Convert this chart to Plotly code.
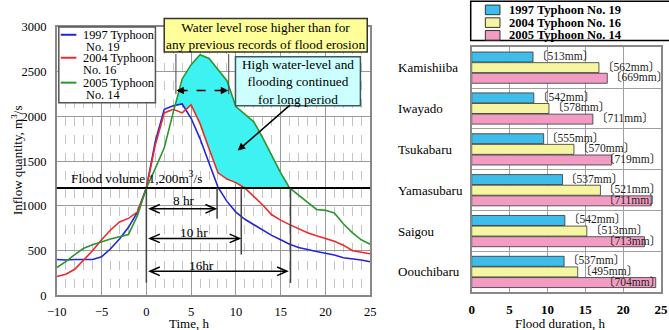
import numpy as np
import plotly.graph_objects as go

W, H = 669, 330
SERIF = "Liberation Serif, Times New Roman, serif"
LABEL_FONT = "Liberation Serif, Noto Sans CJK JP, serif"

# ---------------- data: left chart (inflow hydrographs) ----------------
hours = list(range(-10, 26))
inflow_1997 = [400, 395, 400, 400, 400, 430, 520, 630, 760, 930,
               1200, 1720, 2080, 2120, 2140, 1980, 1750, 1480, 1210, 1050,
               930, 850, 790, 730, 670, 620, 570, 535, 510, 490,
               470, 450, 420, 410, 395, 375]
inflow_2004 = [210, 235, 290, 390, 500, 620, 730, 820, 860, 930,
               1200, 1680, 2040, 2080, 2040, 2130, 1920, 1640, 1370, 1300,
               1260, 1200, 1110, 1010, 900, 840, 790, 745, 700, 665,
               635, 605, 560, 500, 480, 465]
inflow_2005 = [310, 375, 455, 525, 565, 600, 630, 655, 680, 890,
               1200, 1420, 1650, 2046, 2420, 2580, 2690, 2650, 2530, 2400,
               2110, 2030, 1940, 1760, 1560, 1370, 1200, 1120, 1030, 960,
               950, 920, 800, 700, 620, 570]
flood_level = 1200
typhoons = ["1997 Typhoon No. 19", "2004 Typhoon No. 16", "2005 Typhoon No. 14"]
line_colors = ["#2424DC", "#EE2A2A", "#2A962E"]
CYAN = "#3DF2F0"

# ---------------- data: right chart (flood duration) ----------------
dams = ["Kamishiiba", "Iwayado", "Tsukabaru", "Yamasubaru", "Saigou", "Oouchibaru"]
dur_1997 = [8.1, 8.2, 9.5, 12.0, 12.3, 12.2]
dur_2004 = [16.8, 10.2, 13.5, 17.0, 15.2, 14.0]
dur_2005 = [17.9, 16.0, 18.5, 23.7, 22.8, 24.3]
rain_1997 = ["513", "542", "555", "537", "542", "537"]
rain_2004 = ["562", "578", "570", "521", "513", "495"]
rain_2005 = ["669", "711", "719", "711", "713", "704"]
bar_colors = ["#3EBDEB", "#F6F6A2", "#F39CC3"]


def xp(p):
    return p / W


def yp(p):
    return 1 - p / H


fig = go.Figure()

# ---- cyan region: green above max(others, flood level) ----
tt = np.linspace(-10, 25, 3501)
b = np.interp(tt, hours, inflow_1997)
r = np.interp(tt, hours, inflow_2004)
g = np.interp(tt, hours, inflow_2005)
lower = np.maximum(np.maximum(b, r), flood_level)
mask = g > lower
idx = np.where(mask)[0]
if len(idx):
    splits = np.where(np.diff(idx) > 1)[0] + 1
    for seg in np.split(idx, splits):
        xs = np.concatenate([tt[seg], tt[seg][::-1]])
        ys = np.concatenate([g[seg], lower[seg][::-1]])
        fig.add_trace(go.Scatter(x=xs, y=ys, fill="toself", fillcolor=CYAN,
                                 line=dict(width=0), mode="lines", hoverinfo="skip",
                                 showlegend=False, xaxis="x", yaxis="y"))

for name, vals, col in zip(typhoons, [inflow_1997, inflow_2004, inflow_2005], line_colors):
    fig.add_trace(go.Scatter(x=hours, y=vals, mode="lines", name=name,
                             line=dict(color=col, width=1.6), showlegend=False,
                             xaxis="x", yaxis="y"))

# ---- bars ----
for name, vals, col in zip(typhoons, [dur_1997, dur_2004, dur_2005], bar_colors):
    fig.add_trace(go.Bar(x=vals, y=dams, orientation="h", name=name,
                         marker=dict(color=col, line=dict(color="#333333", width=0.8)),
                         showlegend=False, xaxis="x2", yaxis="y2"))

shapes = []
ann = []


def text_ann(x, y, text, xref="paper", yref="paper", xanchor="center", size=13.3, **kw):
    d = dict(x=x, y=y, xref=xref, yref=yref, text=text, showarrow=False,
             xanchor=xanchor, yanchor=kw.pop("yanchor", "middle"),
             font=kw.pop("font", dict(family=SERIF, size=size, color="black")))
    d.update(kw)
    ann.append(d)


# flood level line
shapes.append(dict(type="line", xref="x domain", yref="y", x0=0, x1=1,
                   y0=flood_level, y1=flood_level, line=dict(color="black", width=2)))
# vertical markers
for tv, ylow in [(0, 140), (7.9, 857), (10.6, 457), (16.1, 136)]:
    shapes.append(dict(type="line", xref="x", yref="y", x0=tv, x1=tv, y0=flood_level,
                       y1=ylow, line=dict(color="#444444", width=1.5)))


def chevron(x_tip, y, direction):
    dx, dy = 1.1 * direction, 48
    return f"M {x_tip + dx},{y + dy} L {x_tip},{y} L {x_tip + dx},{y - dy}"


for (x0, x1, yv, label, tx, ty) in [(0.4, 7.7, 967, "8 hr", 4.2, 1060),
                                      (0.4, 10.4, 636, "10 hr", 5.3, 700),
                                      (0.4, 15.7, 268, "16hr", 6.2, 335)]:
    shapes.append(dict(type="line", xref="x", yref="y", x0=x0, x1=x1, y0=yv, y1=yv,
                       line=dict(color="black", width=1.5)))
    shapes.append(dict(type="path", xref="x", yref="y", path=chevron(x0, yv, 1),
                       line=dict(color="black", width=1.5)))
    shapes.append(dict(type="path", xref="x", yref="y", path=chevron(x1, yv, -1),
                       line=dict(color="black", width=1.5)))
    text_ann(tx, ty, label, xref="x", yref="y")

text_ann(xp(60), yp(178), "Flood volume 1,200m<sup>3</sup>/s", xanchor="left")

# top dashed double arrow and its markers
for tv in [3.3, 9.2]:
    shapes.append(dict(type="line", xref="x", yref="y", x0=tv, x1=tv, y0=2700, y1=2250,
                       line=dict(color="#444444", width=1)))
shapes.append(dict(type="line", xref="x", yref="y", x0=3.6, x1=8.9, y0=2290, y1=2290,
                   line=dict(color="black", width=1.5, dash="dash")))
for tip, axp in [(3.35, 10), (9.15, -10)]:
    ann.append(dict(x=tip, y=2290, xref="x", yref="y", text="", showarrow=True,
                    ax=axp, ay=0, arrowhead=2, arrowsize=1, arrowwidth=1.5,
                    arrowcolor="black"))

# callout boxes
shapes.append(dict(type="rect", xref="paper", yref="paper", x0=xp(158), x1=xp(366),
                   y0=yp(12), y1=yp(47), fillcolor="#FFFF99", layer="above", opacity=1,
                   line=dict(color="#333333", width=1.5)))
text_ann(xp(262), yp(30.5),
         "Water level rose higher than for<br>any previous records of flood erosion")
shapes.append(dict(type="rect", xref="paper", yref="paper", x0=xp(231), x1=xp(359),
                   y0=yp(52), y1=yp(103), fillcolor="#CCFFFF", layer="above", opacity=1,
                   line=dict(color="#3A5A5A", width=1.5)))
text_ann(xp(295), yp(78), "High water-level and<br>flooding continued<br>for long period")
ann.append(dict(x=10.2, y=1618, xref="x", yref="y", text="", showarrow=True,
                ax=54, ay=-47, arrowhead=2, arrowsize=1, arrowwidth=1.5, arrowcolor="black"))

# left legend (drawn)
shapes.append(dict(type="rect", xref="paper", yref="paper", x0=xp(50), x1=xp(149),
                   y0=yp(21), y1=yp(100), fillcolor="white", layer="above", opacity=1,
                   line=dict(color="#555555", width=1.5)))
leg_lines = [("1997 Typhoon", "\u00a0No. 19"), ("2004 Typhoon", "No. 16"),
             ("2005 Typhoon", "\u00a0No. 14")]
for k, ((l1, l2), col) in enumerate(zip(leg_lines, line_colors)):
    ytop = [29, 53, 79][k]
    shapes.append(dict(type="line", xref="paper", yref="paper", x0=xp(52), x1=xp(68),
                       y0=yp(ytop), y1=yp(ytop), line=dict(color=col, width=2)))
    text_ann(xp(73), yp(ytop), l1, xanchor="left", size=12.3)
    text_ann(xp(73), yp(ytop + 13), l2, xanchor="left", size=12.3)

# axis titles
text_ann(xp(7), yp(160), "Inflow quantity, m<sup>3</sup>/s", size=13, textangle=-90)
text_ann(xp(183), yp(321), "Time, h", size=13, yanchor="top")
text_ann(xp(563), yp(321), "Flood duration, h", size=13, yanchor="top")

# ---- right chart labels ----
bargap = 0.22
slot = (1 - bargap) / 3
for i, dam in enumerate(dams):
    text_ann(xp(395), i, dam, yref="y2", xanchor="left", size=13)
    for k, (vals, rains) in enumerate(zip([dur_1997, dur_2004, dur_2005],
                                          [rain_1997, rain_2004, rain_2005])):
        v = vals[i]
        txt = "〔" + rains[i] + "mm〕"
        lab_font = dict(family=LABEL_FONT, size=11.5, color="#222222")
        if v + 0.1 + 7.4 <= 25.4:
            text_ann(v + 0.1, i + (k - 1) * slot, txt, xref="x2", yref="y2",
                     xanchor="left", yshift=1, font=lab_font)
        else:
            # too close to the right edge: right-align the label at the figure edge
            text_ann(xp(669), i + (k - 1) * slot, txt, xref="paper", yref="y2",
                     xanchor="right", yshift=1, font=lab_font)

# right legend (drawn)
shapes.append(dict(type="rect", xref="paper", yref="paper", x0=xp(472), x1=xp(690),
                   y0=yp(-6), y1=yp(35), fillcolor="white", layer="above", opacity=1,
                   line=dict(color="black", width=1.5)))
for k, (name, col) in enumerate(zip(typhoons, bar_colors)):
    yc = [3, 16.3, 29.6][k]
    shapes.append(dict(type="rect", xref="paper", yref="paper", x0=xp(487), x1=xp(502),
                       y0=yp(yc - 5), y1=yp(yc + 5), fillcolor=col, layer="above",
                       line=dict(color="#333333", width=1)))
    text_ann(xp(509), yp(yc), name, xanchor="left",
             font=dict(family=SERIF, size=12.5, color="black", weight="bold"))

fig.update_layout(
    width=W, height=H, margin=dict(l=0, r=0, t=0, b=0),
    paper_bgcolor="white", plot_bgcolor="white",
    barmode="group", bargap=bargap, bargroupgap=0.06,
    shapes=shapes, annotations=ann, showlegend=False,
    xaxis=dict(domain=[xp(48), xp(369)], range=[-10, 25], tick0=-10, dtick=5,
               showgrid=True, gridcolor="#9A9A9A", gridwidth=1,
               minor=dict(dtick=1, showgrid=True, gridcolor="#C4C4C4", griddash="dash"),
               showline=True, mirror=True, linecolor="#888888", linewidth=1.5,
               zeroline=False, ticks="", ticklabelstandoff=4,
               tickfont=dict(family=SERIF, size=12.5, color="black"), anchor="y"),
    yaxis=dict(domain=[yp(301), yp(21)], range=[0, 3000], dtick=500,
               showgrid=True, gridcolor="#9A9A9A", gridwidth=1,
               showline=True, mirror=True, linecolor="#888888", linewidth=1.5,
               zeroline=False, ticks="", ticklabelstandoff=6,
               tickfont=dict(family=SERIF, size=12.5, color="black"), anchor="x"),
    xaxis2=dict(domain=[xp(473), xp(667)], range=[0, 25], dtick=5,
                showgrid=True, gridcolor="#A0A0A0", gridwidth=1,
                showline=True, mirror=True, linecolor="#888888", linewidth=1.5,
                zeroline=False, ticks="", ticklabelstandoff=4,
                tickfont=dict(family=SERIF, size=13, color="black", weight="bold"),
                anchor="y2"),
    yaxis2=dict(domain=[yp(298), yp(42)], type="category", autorange="reversed",
                tickson="boundaries", showgrid=True, gridcolor="#A0A0A0", gridwidth=1,
                showline=True, mirror=True, linecolor="#888888", linewidth=1.5,
                showticklabels=False, ticks="", zeroline=False, anchor="x2"),
)

fig.write_html("out.html")
